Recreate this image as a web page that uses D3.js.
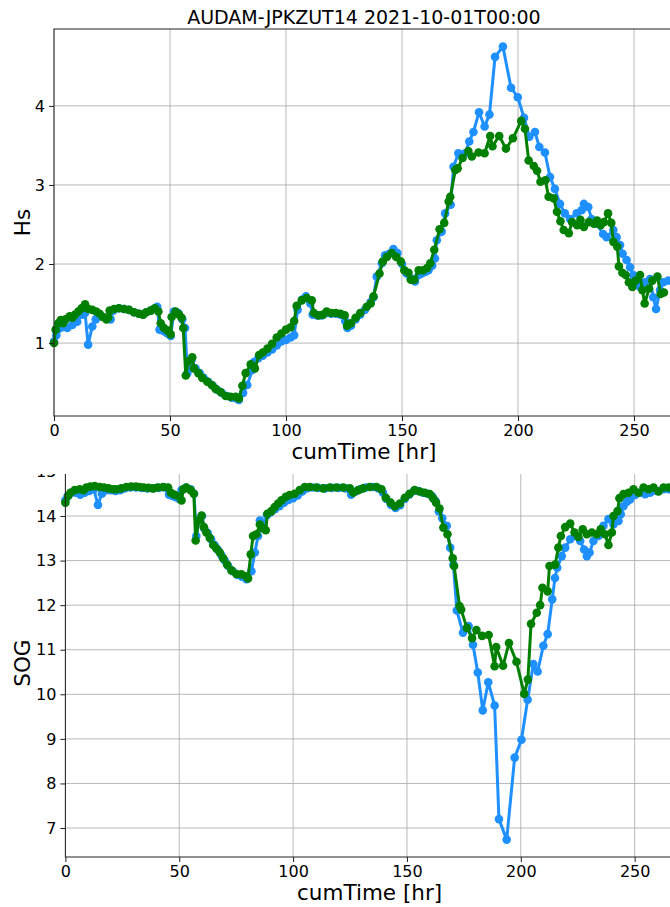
<!DOCTYPE html>
<html><head><meta charset="utf-8">
<script src="https://cdn.jsdelivr.net/npm/d3@7"></script>
<style>
body{margin:0;background:#fff}
text{font-family:"DejaVu Sans",sans-serif;fill:#000}
</style>
</head><body>
<svg id="c" width="670" height="907"></svg>
<script>
const title = "AUDAM-JPKZUT14 2021-10-01T00:00";
const xLabel = "cumTime [hr]";
const xTicks = [0, 50, 100, 150, 200, 250];
const hsTicks = [1, 2, 3, 4];
const sogTicks = [7, 8, 9, 10, 11, 12, 13, 14, 15];

// Hs, blue series
const hsBlueTime = [0,1,2,3.5,5.7,7.9,10,12.2,13.4,14.7,16.5,18,20.1,22.3,24.4,25.5,28,30.2,32.3,34.5,36.6,38.4,39.8,41.7,43.5,44.5,45.5,47.4,48.9,50.3,51.7,53.6,55.3,56.5,57.5,59.3,61,62.8,64.5,66.5,68.5,70.3,72.3,74.5,76.6,78.6,79.7,81.5,83.3,85.5,86.2,88.1,90,92,94,96,98,100,102,103.5,105,107,108.6,110.5,111.5,113.5,115.5,117.5,119.5,121.5,123.5,125.5,126.5,128,130,132,134,136.5,137.7,139.1,141.3,142.7,144.5,146.3,148,150,152,153.8,155.6,157.2,158.5,160,161.4,163,164.2,165,167.1,168.6,171,172.2,174.3,177.2,179,180.8,183.2,185.6,187.7,190.1,193.5,197,199.9,202.6,204.9,207.3,209.2,211.6,213.8,215.9,218.1,220.2,222.4,225.3,227.4,228.4,230.3,231.7,233.9,236.7,238.2,241.1,242.5,244,245.1,246.8,248.3,249.7,251.1,252.6,254.7,256.9,258.3,259.5,261.2,262.6,264.8];
const hsBlue = [1.02,1.10,1.18,1.20,1.19,1.23,1.27,1.36,1.38,0.98,1.21,1.30,1.34,1.32,1.30,1.41,1.44,1.43,1.42,1.39,1.37,1.36,1.39,1.41,1.44,1.46,1.17,1.15,1.12,1.09,1.40,1.38,1.30,1.19,0.62,0.79,0.68,0.62,0.56,0.51,0.46,0.41,0.37,0.33,0.31,0.30,0.28,0.37,0.47,0.66,0.76,0.81,0.84,0.88,0.92,0.97,1.02,1.04,1.07,1.10,1.42,1.55,1.59,1.50,1.36,1.35,1.35,1.38,1.37,1.37,1.36,1.28,1.19,1.22,1.30,1.36,1.42,1.52,1.58,1.84,2.01,2.11,2.13,2.19,2.14,2.00,1.88,1.82,1.78,1.86,1.88,1.90,1.92,1.98,2.07,2.30,2.41,2.64,2.75,3.23,3.40,3.40,3.55,3.67,3.92,3.74,3.89,4.62,4.75,4.23,4.11,3.85,3.61,3.67,3.48,3.41,3.10,2.95,2.76,2.64,2.57,2.64,2.68,2.76,2.72,2.57,2.51,2.38,2.34,2.43,2.34,2.24,2.13,2.05,1.96,1.86,1.77,1.71,1.77,1.81,1.58,1.43,1.67,1.77,1.79];

// Hs, green series
const hsGreenTime = [0,0.7,1.9,2.9,3.9,5,6.8,7.9,9.1,10.5,11.9,13.4,14.8,16.5,18.2,19.7,21.1,22.6,23.4,24,25.9,28,30.2,32.3,34.5,36.6,38.4,39.8,41.7,43.5,45,46,47.4,48.9,50.3,50.7,52.4,53.9,55,55.7,56.8,57.9,59.6,60.3,62.2,63.9,66.1,68,69.7,71.8,74,76.1,78.3,79.7,81.2,82.6,84.8,86.6,88.4,90,92,94,96,98,100,102,103.5,104.6,106.8,108.9,111.1,112,114,116,117.5,119.5,121.5,123.5,125.3,126.3,128,130,132,134.8,136.5,137.7,140.3,141.7,143.5,145.6,147.5,149.5,151,152.8,153.8,155.3,157.2,159.1,160.8,162.2,163.9,166.2,168.2,170.1,170.8,173,174,176.1,178.6,180.1,183,185.6,188,189,191.9,194.8,197.8,201.4,203,204.6,206.8,208.2,209.7,211.8,213.2,215.4,216.8,218.3,219.7,221.9,223.3,225.5,226.9,228.4,230.5,232.7,234.1,235.6,237,238.8,240.2,241.1,242.8,243.5,245,246.4,247.8,249.3,250.7,252.6,253.6,254.6,256.5,257.9,260.1,261.5,262.9];
const hsGreen = [1.00,1.17,1.25,1.29,1.25,1.30,1.34,1.32,1.36,1.40,1.44,1.49,1.43,1.42,1.40,1.37,1.33,1.30,1.32,1.41,1.43,1.44,1.43,1.42,1.39,1.37,1.36,1.39,1.41,1.44,1.40,1.25,1.19,1.16,1.11,1.33,1.40,1.36,1.32,1.19,0.59,0.77,0.82,0.68,0.62,0.56,0.51,0.47,0.42,0.38,0.33,0.32,0.32,0.30,0.46,0.62,0.73,0.68,0.85,0.88,0.93,0.99,1.07,1.12,1.17,1.20,1.28,1.47,1.54,1.57,1.54,1.38,1.35,1.36,1.40,1.38,1.38,1.37,1.35,1.22,1.25,1.32,1.38,1.46,1.50,1.59,1.88,2.03,2.09,2.14,2.09,2.03,1.92,1.89,1.80,1.80,1.92,1.92,1.95,2.01,2.18,2.44,2.52,2.79,2.85,3.19,3.21,3.34,3.43,3.36,3.41,3.40,3.62,3.49,3.62,3.46,3.59,3.81,3.71,3.31,3.24,3.18,3.04,3.06,2.85,2.83,2.66,2.54,2.43,2.39,2.53,2.49,2.56,2.47,2.53,2.51,2.55,2.49,2.53,2.64,2.52,2.28,2.22,1.97,1.89,1.86,1.77,1.71,1.79,1.86,1.67,1.50,1.69,1.79,1.84,1.62,1.64];

// SOG, blue series
const sogBlueTime = [0,1,2.5,4.5,6.5,8.5,10.5,12.5,14.3,16,18,20,22,24,26,28.5,31,33.5,36,38.5,41,43.5,45.5,47,48.5,50,51,53,55,56.5,57.5,58.8,60,61,62.5,64,65.5,67,68.5,70,71.5,73.5,75.5,77.5,79.5,81.7,83.2,84.6,85.4,87,88.5,90,92,94,96,98,100,102,104,106,108.5,111,114,117,120,123,125.5,127.5,129.5,132,135,137.5,139.5,141,143,145,147,149,151,153,155,157,159,161,162.5,164,165.5,167.5,169,170.4,171.9,174.6,177.1,179,181.1,183.3,185.7,188.5,190.4,193.8,197.3,200.3,203,205.5,207.4,209.9,211.8,213.8,215,216,218,219.5,221.7,223.9,226.1,227.8,229,230.2,231.9,234.1,236.3,238.5,240.7,242.9,243.9,245.1,246.6,248,250.2,252.4,254.6,256.8,259.7,262.7,264.9];
const sogBlue = [14.35,14.45,14.52,14.52,14.48,14.52,14.56,14.60,14.25,14.50,14.58,14.58,14.56,14.58,14.62,14.64,14.64,14.63,14.62,14.62,14.63,14.64,14.48,14.45,14.42,14.38,14.58,14.64,14.60,14.50,13.55,13.92,14.00,13.72,13.62,13.48,13.35,13.24,13.12,13.00,12.88,12.76,12.68,12.64,12.58,12.76,13.18,13.55,13.90,13.75,14.02,14.08,14.15,14.22,14.30,14.36,14.40,14.46,14.55,14.62,14.64,14.63,14.62,14.63,14.63,14.62,14.48,14.55,14.60,14.64,14.65,14.62,14.52,14.38,14.25,14.18,14.24,14.38,14.48,14.56,14.56,14.52,14.50,14.45,14.34,14.10,13.95,13.78,13.29,12.91,11.88,11.38,11.53,11.11,10.49,9.64,10.27,9.75,7.20,6.74,8.58,8.98,9.88,10.68,10.51,11.09,11.35,12.13,12.61,12.84,13.10,13.29,13.48,13.55,13.44,13.25,13.10,13.18,13.44,13.55,13.78,13.93,13.81,13.89,14.04,14.22,14.32,14.37,14.47,14.52,14.49,14.52,14.56,14.60,14.60];

// SOG, green series
const sogGreenTime = [0,1.2,2.2,4.1,6.3,8,9.2,11,12.9,15.1,17,19,21,22.4,24.5,26.8,29,31,32.6,34.5,36.5,38.5,40.5,42.9,45.1,46.3,47.8,49.5,51,51.8,53.1,55,56.4,57.2,58.5,59.8,60.8,61.9,63.4,64.9,66.3,67.8,69.3,71,72.9,75.1,77.3,79.5,80.2,81.4,82.4,83.9,85.4,86.8,88,88.7,90.5,91.9,93.4,94.9,96.8,98.5,100.7,102.9,105.1,107.3,110.2,113.2,116.1,119,122,124.9,126.4,128.6,130.7,133.7,136.6,138.8,140.7,142.8,144.7,146.9,149.1,151.2,153.4,155.6,157.8,160,161.5,162.8,164.3,166,167.8,170.1,170.7,173.1,173.8,176.3,178.6,180.5,183,185.9,188.5,189.2,192.2,194.8,198.1,201.5,203.1,204.5,207,208.5,209.5,211.8,212.6,215.1,216.5,217.6,219.5,221.7,223.6,225.3,227.2,229,231.2,233.4,235.1,237,238.5,240,240.7,242.5,243.3,245.1,247.3,249.5,251.7,253.9,256.1,258.3,260.5,262.7,264.9];
const sogGreen = [14.30,14.45,14.52,14.58,14.60,14.58,14.64,14.66,14.67,14.65,14.64,14.62,14.60,14.60,14.62,14.65,14.66,14.66,14.65,14.64,14.63,14.62,14.64,14.65,14.64,14.52,14.48,14.45,14.35,14.60,14.64,14.58,14.50,13.45,13.90,14.01,13.75,13.63,13.51,13.35,13.27,13.18,13.05,12.91,12.78,12.70,12.69,12.65,12.60,13.14,13.55,13.59,13.81,13.72,13.68,14.05,14.11,14.20,14.28,14.35,14.43,14.47,14.50,14.58,14.65,14.65,14.64,14.62,14.64,14.64,14.64,14.62,14.52,14.58,14.62,14.65,14.65,14.60,14.41,14.30,14.22,14.28,14.41,14.50,14.58,14.55,14.52,14.49,14.40,14.30,14.17,13.74,13.59,13.05,12.88,11.98,11.90,11.49,11.26,11.44,11.31,11.33,10.63,11.06,10.64,11.15,10.73,10.01,10.33,11.58,11.83,12.00,12.39,12.31,12.88,12.91,13.29,13.55,13.75,13.83,13.63,13.53,13.70,13.59,13.63,13.59,13.70,13.59,13.35,13.63,14.00,14.11,14.40,14.49,14.52,14.60,14.52,14.64,14.60,14.64,14.55,14.64,14.64];

const BLUE = "#1e90ff", GREEN = "#008000";
const svg = d3.select("#c");

function panel(cfg) {
  const g = svg.append("g");
  if (cfg.clipTop !== undefined) {
    svg.append("defs").append("clipPath").attr("id", cfg.id)
      .append("rect").attr("x", 0).attr("y", cfg.clipTop).attr("width", 670).attr("height", 907 - cfg.clipTop);
    g.attr("clip-path", `url(#${cfg.id})`);
  }
  const xMax = 267.2;
  const x = d3.scaleLinear().domain([0, xMax]).range([cfg.left, cfg.left + xMax * cfg.pxPerHr]);
  const y = d3.scaleLinear().domain(cfg.yDomain).range([cfg.bottom, cfg.top]);
  const [x0, x1] = x.range();

  g.append("g").selectAll("line").data(xTicks).join("line")
    .attr("x1", d => x(d)).attr("x2", d => x(d)).attr("y1", cfg.top).attr("y2", cfg.bottom)
    .attr("stroke", "#b0b0b0").attr("stroke-width", 0.9);
  g.append("g").selectAll("line").data(cfg.yTicks).join("line")
    .attr("x1", x0).attr("x2", x1).attr("y1", d => y(d)).attr("y2", d => y(d))
    .attr("stroke", "#b0b0b0").attr("stroke-width", 0.9);

  const line = d3.line().x(d => x(d[0])).y(d => y(d[1]));
  cfg.series.forEach(s => {
    const pts = s.t.map((t, i) => [t, s.v[i]]);
    g.append("path").datum(pts).attr("d", line).attr("fill", "none")
      .attr("stroke", s.color).attr("stroke-width", 3).attr("stroke-linejoin", "round");
    g.append("g").selectAll("circle").data(pts).join("circle")
      .attr("cx", d => x(d[0])).attr("cy", d => y(d[1])).attr("r", 4.3).attr("fill", s.color);
  });

  g.append("rect").attr("x", x0).attr("y", cfg.top).attr("width", x1 - x0).attr("height", cfg.bottom - cfg.top)
    .attr("fill", "none").attr("stroke", "#222").attr("stroke-width", 1);

  const ax = g.append("g").attr("transform", `translate(0,${cfg.bottom})`)
    .call(d3.axisBottom(x).tickValues(xTicks).tickFormat(d3.format("d")).tickSize(5).tickSizeOuter(0).tickPadding(4));
  const ay = g.append("g").attr("transform", `translate(${x0},0)`)
    .call(d3.axisLeft(y).tickValues(cfg.yTicks).tickFormat(d3.format("d")).tickSize(5).tickSizeOuter(0).tickPadding(4));
  [ax, ay].forEach(a => {
    a.select(".domain").remove();
    a.selectAll(".tick line").attr("stroke", "#222").attr("stroke-width", 1);
    a.selectAll(".tick text").style("font-family", '"DejaVu Sans",sans-serif').style("font-size", "16px").attr("fill", "#000");
  });

  g.append("text").attr("x", (x0 + x1) / 2).attr("y", cfg.bottom + 43)
    .attr("text-anchor", "middle").style("font-size", "21.5px").text(xLabel);
  g.append("text").attr("transform", `translate(${cfg.yLabelX},${(cfg.top + cfg.bottom) / 2}) rotate(-90)`)
    .attr("text-anchor", "middle").attr("dy", "0.35em").style("font-size", "21.5px").text(cfg.yLabel);
  return { x, y, x0, x1 };
}

const topPanel = panel({
  id: "cTop", left: 54, pxPerHr: 2.32, top: 29, bottom: 416,
  yDomain: [0.0775, 4.9725], yTicks: hsTicks, yLabel: "Hs", yLabelX: 22,
  series: [{ t: hsBlueTime, v: hsBlue, color: BLUE }, { t: hsGreenTime, v: hsGreen, color: GREEN }]
});
svg.append("text").attr("x", (topPanel.x0 + topPanel.x1) / 2).attr("y", 24).attr("text-anchor", "middle")
  .style("font-size", "19px").text(title);

panel({
  id: "cBot", left: 65.4, pxPerHr: 2.277, top: 469.2, bottom: 857, clipTop: 474,
  yDomain: [6.35, 15.05], yTicks: sogTicks, yLabel: "SOG", yLabelX: 22,
  series: [{ t: sogBlueTime, v: sogBlue, color: BLUE }, { t: sogGreenTime, v: sogGreen, color: GREEN }]
});
</script>
</body></html>
